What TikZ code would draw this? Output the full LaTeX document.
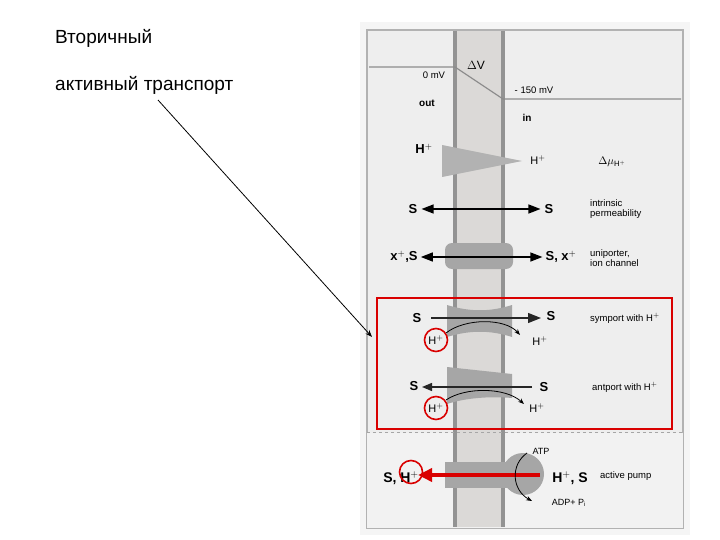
\documentclass[tikz,border=0pt]{standalone}
\usepackage{fontspec}
\setmainfont{Liberation Sans}
\usetikzlibrary{arrows.meta}
\begin{document}
\begin{tikzpicture}[x=1pt,y=-1pt,
  lab/.style={font=\fontsize{11}{12}\selectfont,inner sep=0pt},
  blab/.style={font=\fontsize{13}{14}\selectfont\bfseries,inner sep=0pt},
  sm/.style={font=\fontsize{9.5}{10.5}\selectfont,inner sep=0pt,align=left,anchor=west},
  redc/.style={draw=red!85!black,line width=1.6pt,circle,minimum size=23pt,inner sep=0pt},
  blk/.style={-{Triangle[length=12pt,width=9pt]},line width=1.3pt}]
\useasboundingbox (0,0) rectangle (720,540);
% panel
\fill[gray!8] (360,22) rectangle (690,535);
\draw[gray!60,line width=1.2pt,fill=gray!13] (367,30) rectangle (683,528);
\fill[gray!10] (367,433) rectangle (683,528);
% membrane
\fill[brown!10!gray!30] (455,31) rectangle (503,527);
\draw[gray!85,line width=4.5pt] (455,31) -- (455,527) (503,31) -- (503,527);
% voltage
\draw[gray!90,line width=1.2pt] (369,67) -- (455,67) -- (503,99) -- (681,99);
\node[lab,font=\fontsize{9.5}{10}\selectfont] (mv0) at (434,75) {0 mV};
\node[lab,font=\fontsize{12}{13}\selectfont] (dv) at (476,65) {$\Delta$V};
\node[lab,font=\fontsize{9.5}{10}\selectfont] (mv1) at (534,90) {- 150 mV};
\node[lab,font=\fontsize{10}{11}\selectfont\bfseries] (out) at (427,103) {out};
\node[lab,font=\fontsize{10}{11}\selectfont\bfseries] (in) at (527,118) {in};
% gradient
\fill[gray!60] (442,145) -- (522,161) -- (442,177) -- cycle;
\node[blab] (h1) at (424,149) {H$^+$};
\node[lab] (h2) at (538,160) {H$^+$};
\node[lab] (dmu) at (612,162) {$\Delta\mu_{\mathrm{H}^+}$};
% intrinsic
\node[blab] (s1) at (413,209) {S};
\node[blab] (s2) at (549,209) {S};
\draw[blk,{Triangle[length=12pt,width=9pt]}-{Triangle[length=12pt,width=9pt]}] (s1.east)++(4,0) -- ([xshift=-4]s2.west);
\node[sm] (ip) at (590,209) {intrinsic\\permeability};
% uniporter
\fill[gray!70,rounded corners=7pt] (445,243) rectangle (513,269);
\node[blab] (x1) at (404,257) {x$^+$,S};
\node[blab] (x2) at (561,257) {S, x$^+$};
\draw[blk,{Triangle[length=12pt,width=9pt]}-{Triangle[length=12pt,width=9pt]}] ([xshift=3]x1.east) -- ([xshift=-3]x2.west);
\node[sm] (un) at (590,258) {uniporter,\\ion channel};
\draw[gray!70,dashed] (367,432) -- (683,432);
% symport
\fill[gray!70] (447,305) .. controls (470,312) and (490,312) .. (512,305) -- (512,337) .. controls (490,330) and (470,330) .. (447,337) -- cycle;
\node[blab] (s3) at (417,318) {S};
\node[blab] (s4) at (551,316) {S};
\draw[gray!30!black,line width=1.3pt,-{Triangle[length=13pt,width=10pt]}] (431,318) -- (541,318);
\node[lab] (h3) at (436,340) {H$^+$};
\node[redc] (c1) at (436,340) {};
\node[lab] (h4) at (540,341) {H$^+$};
\draw[-{Stealth[length=6pt]},line width=0.8pt] (446,333) .. controls (465,318) and (505,318) .. (520,335);
\node[sm] (sy) at (590,318) {symport with H$^+$};
% antiport
\fill[gray!70] (447,367) -- (512,374) -- (512,398) .. controls (490,396) and (465,398) .. (447,404) -- cycle;
\node[blab] (s5) at (414,386) {S};
\node[blab] (s6) at (544,387) {S};
\draw[gray!30!black,line width=1.3pt,-{Triangle[length=10pt,width=8pt]}] (532,387) -- (422,387);
\node[lab] (h5) at (436,408) {H$^+$};
\node[redc] (c2) at (436,408) {};
\node[lab] (h6) at (537,408) {H$^+$};
\draw[-{Stealth[length=6pt]},line width=0.8pt] (446,400) .. controls (465,387) and (505,387) .. (524,404);
\node[sm] (an) at (592,387) {antport with H$^+$};
\draw[red!85!black,line width=1.4pt] (377,298) rectangle (672,429);
% pump
\fill[gray!70] (445,462) rectangle (515,488);
\fill[gray!70] (523,474) circle (21);
\draw[red!85!black,line width=4pt,-{Triangle[length=14pt,width=13pt]}] (540,475) -- (418,475);
\node[blab,font=\fontsize{14}{15}\selectfont\bfseries] (p1) at (401,478) {S, H$^+$};
\node[redc] (c3) at (411,472) {};
\node[blab,font=\fontsize{14}{15}\selectfont\bfseries] (p2) at (570,478) {H$^+$, S};
\node[sm] (ap) at (600,476) {active pump};
\node[lab,font=\fontsize{9}{10}\selectfont] (atp) at (541,451) {ATP};
\node[lab,font=\fontsize{9}{10}\selectfont] (adp) at (569,503) {ADP+ P$_\mathrm{i}$};
\draw[-{Stealth[length=6pt]},line width=0.8pt] (527,453) .. controls (510,465) and (512,490) .. (532,501);
% left text
\node[anchor=west,inner sep=0pt,font=\fontsize{19}{21}\selectfont] (t1) at (55,38) {Вторичный};
\node[anchor=west,inner sep=0pt,font=\fontsize{19}{21}\selectfont] (t2) at (55,85) {активный транспорт};
\coordinate (tip) at (372,337);
\draw[-{Stealth[length=7pt]},line width=0.8pt] (158,100) -- (tip);
\end{tikzpicture}
\end{document}
